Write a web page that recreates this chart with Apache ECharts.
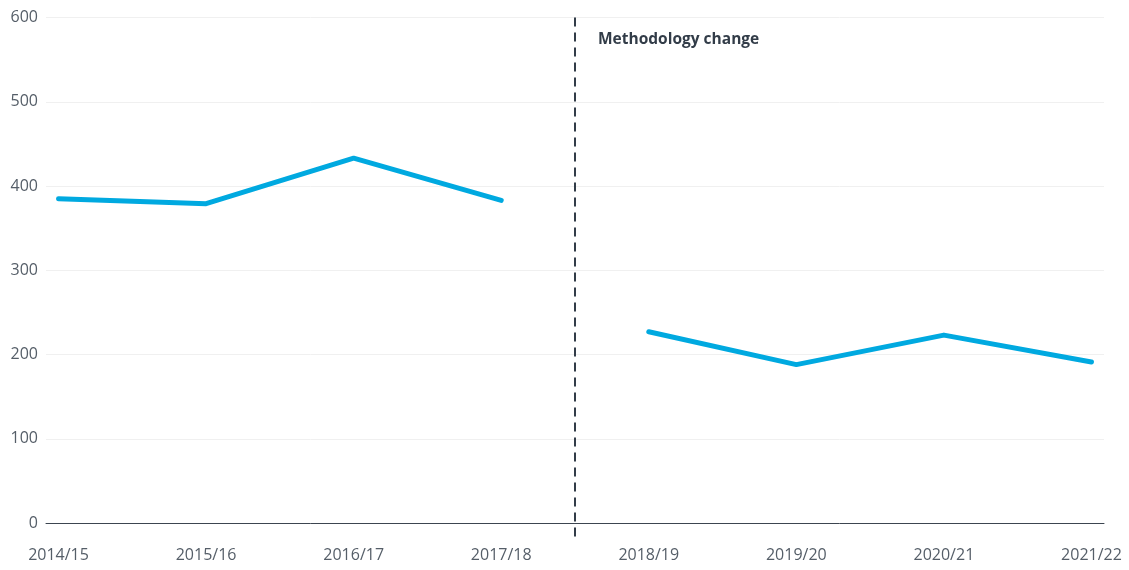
<!DOCTYPE html>
<html>
<head>
<meta charset="utf-8">
<script src="https://cdn.jsdelivr.net/npm/echarts@6/dist/echarts.min.js"></script>
<style>
  html, body { margin: 0; padding: 0; background: #ffffff; }
  #chart { width: 1129px; height: 570px; }
</style>
</head>
<body>
<div id="chart"></div>
<script>
// Financial years shown along the x axis
const years = ['2014/15', '2015/16', '2016/17', '2017/18', '2018/19', '2019/20', '2020/21', '2021/22'];
// Values before the methodology change (2014/15 – 2017/18)
const beforeChange = [385, 379, 433, 383];
// Values after the methodology change (2018/19 – 2021/22)
const afterChange = [227, 188, 223, 191];
// Y axis ticks
const yTicks = [0, 100, 200, 300, 400, 500, 600];
// The break sits halfway between 2017/18 and 2018/19; the divider runs
// from the top of the scale to a little below the zero line
const breakAt = 3.5;
const breakSpan = [600, -20];
const breakLabel = 'Methodology change';

const FONT = '"Open Sans", "Noto Sans", sans-serif';
const LINE_COLOR = '#00a9e0';
const DARK = '#323c48';

const firstSeg = beforeChange.map((v, i) => [i, v]);
const secondSeg = afterChange.map((v, i) => [i + beforeChange.length, v]);
const divider = breakSpan.map(v => [breakAt, v]);
const xIdx = years.map((_, i) => i);

const chart = echarts.init(document.getElementById('chart'), null, { renderer: 'canvas' });

const lineStyle = { color: LINE_COLOR, width: 5, cap: 'round', join: 'round' };

chart.setOption({
  animation: false,
  backgroundColor: '#ffffff',
  grid: { left: 46, right: 25, top: 17.5, bottom: 47, containLabel: false },
  xAxis: {
    type: 'value',
    min: -0.085,
    max: years.length - 1 + 0.085,
    axisLine: { show: true, lineStyle: { color: '#3c4550', width: 1 } },
    axisTick: { show: false },
    splitLine: { show: false },
    axisLabel: {
      customValues: xIdx,
      formatter: v => years[Math.round(v)],
      color: '#555e68',
      fontFamily: FONT,
      fontSize: 16,
      margin: 24,
      showMinLabel: true,
      showMaxLabel: true
    }
  },
  yAxis: {
    type: 'value',
    min: yTicks[0],
    max: yTicks[yTicks.length - 1],
    interval: 100,
    axisLine: { show: false },
    axisTick: { show: false },
    splitLine: { show: true, lineStyle: { color: '#f0f0f0', width: 1 } },
    axisLabel: {
      color: '#555e68',
      fontFamily: FONT,
      fontSize: 16,
      margin: 8
    }
  },
  series: [
    {
      // dashed divider marking the methodology change
      type: 'line',
      data: divider,
      symbol: 'none',
      clip: false,
      silent: true,
      z: 1,
      lineStyle: { color: DARK, type: [9, 6], width: 2 }
    },
    {
      type: 'line',
      data: firstSeg,
      symbol: 'none',
      z: 2,
      lineStyle: lineStyle
    },
    {
      type: 'line',
      data: secondSeg,
      symbol: 'none',
      z: 2,
      lineStyle: lineStyle
    }
  ],
  graphic: [
    {
      type: 'text',
      left: 598,
      top: 32,
      style: {
        text: breakLabel,
        fill: DARK,
        font: 'bold 15.5px ' + FONT
      }
    }
  ]
});
</script>
</body>
</html>
